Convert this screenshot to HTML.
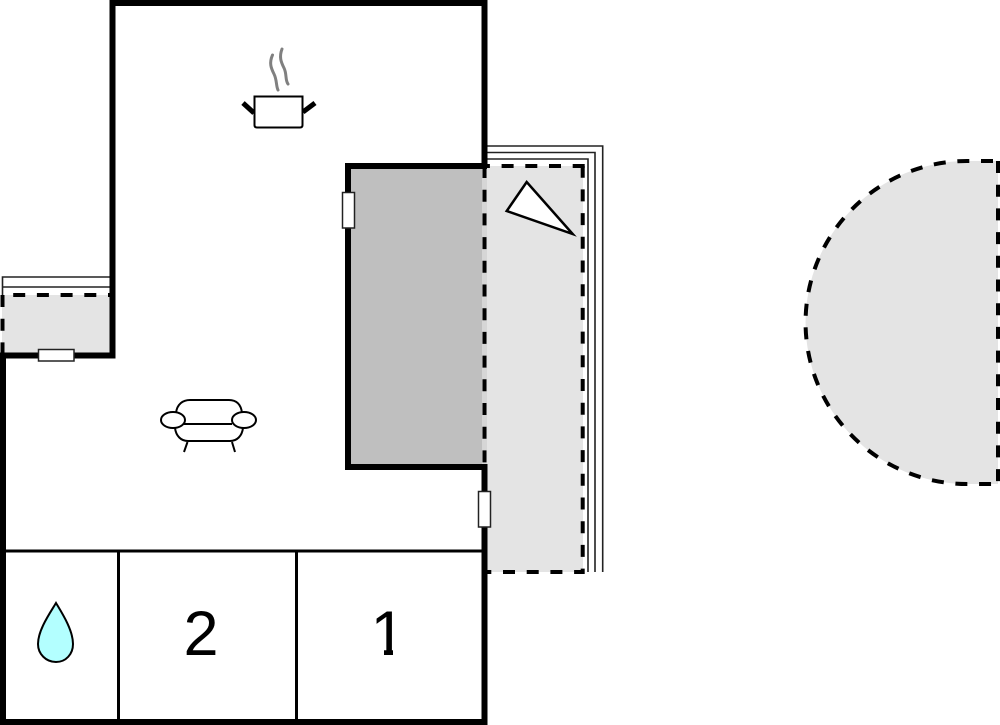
<!DOCTYPE html>
<html>
<head>
<meta charset="utf-8">
<style>
html,body{margin:0;padding:0;background:#fff;width:1000px;height:725px;overflow:hidden}
svg{display:block}
text{font-family:"Liberation Sans",sans-serif;font-size:63px;fill:#000;text-anchor:middle}
</style>
</head>
<body>
<svg width="1000" height="725" viewBox="0 0 1000 725" xmlns="http://www.w3.org/2000/svg">
<rect width="1000" height="725" fill="#fff"/>
<!-- terrace lines -->
<g fill="none" stroke="#222" stroke-width="1.6">
<path d="M486 146H602.700V572"/>
<path d="M486 152.500H595V572"/>
<path d="M486 159H588V572"/>
<path d="M2.500 295V277H111"/>
<path d="M2.500 287H111"/>
</g>
<!-- fills -->
<rect x="485" y="166" width="98" height="406" fill="#e4e4e4"/>
<rect x="2" y="295" width="109" height="59" fill="#e4e4e4"/>
<path d="M998 161H967A161.500 161.500 0 0 0 967 484H998Z" fill="#e4e4e4"/>
<rect x="348" y="166" width="136" height="301" fill="#bfbfbf"/>
<rect x="482" y="166" width="5" height="301" fill="#d6d6d6"/>
<!-- dashed -->
<g fill="none" stroke="#000" stroke-width="4" stroke-dasharray="12 11.700">
<path d="M484.500 572H582.700V166" stroke-dashoffset="5.200"/>
<path d="M584.700 166H484.500"/>
<path d="M110 295H3" stroke-dashoffset="10"/>
<path d="M2.500 295V354"/>
<path d="M993 161H967A161.500 161.500 0 0 0 967 484H998"/>
<path d="M998 161V484"/>
<path d="M484.500 166V467"/>
</g>
<!-- walls -->
<g fill="none" stroke="#000" stroke-width="6">
<path d="M484.500 166V3H112.500V355.500H3V722H484.500V467H348V166H487" stroke-linejoin="miter"/>
</g>
<g stroke="#000" stroke-width="3" fill="none">
<path d="M5 551H483"/>
<path d="M118.500 551V720"/>
<path d="M296.500 551V720"/>
</g>
<!-- doors / windows -->
<g fill="#fff" stroke="#222" stroke-width="1.500">
<rect x="342.500" y="192.500" width="12" height="35.500"/>
<rect x="478.500" y="491.500" width="12" height="35.500"/>
<rect x="38.500" y="349.500" width="35.500" height="11.500"/>
</g>
<!-- triangle -->
<path d="M526.700 182L506.700 211L572.700 234Z" fill="#fff" stroke="#000" stroke-width="2.500" stroke-linejoin="miter"/>
<!-- pot -->
<g fill="none" stroke-linecap="round">
<path d="M272.500 55C269 63 271 68 274 74C277 80 276 86 278 90" stroke="#808080" stroke-width="3"/>
<path d="M282 49C279 57 281 62 284 68C287 74 285 80 288 84" stroke="#808080" stroke-width="3"/>
</g>
<path d="M243 103L254 113" stroke="#000" stroke-width="5" fill="none"/>
<path d="M315 103L303 112" stroke="#000" stroke-width="5" fill="none"/>
<path d="M254.500 96.500H302.500V125Q302.500 127.500 300 127.500H257Q254.500 127.500 254.500 125Z" fill="#fff" stroke="#000" stroke-width="2"/>
<!-- sofa -->
<g fill="none" stroke="#000" stroke-width="2">
<path d="M176 413C177 404 183 400 190 400H229C236 400 241 404 242 413"/>
<path d="M175 428C176 436 181 441 188 441H230C237 441 242 436 243 428"/>
<path d="M184 424H232"/>
<path d="M187.500 442L184 452M232 442L235 452"/>
<ellipse cx="173" cy="420" rx="12" ry="8" fill="#fff"/>
<ellipse cx="244" cy="420" rx="12" ry="8" fill="#fff"/>
</g>
<!-- drop -->
<path d="M56 603C50 613 38 630 38 644C38 654 46 662 56 662C66 662 73 654 73 644C73 630 62 613 56 603Z" fill="#b3ffff" stroke="#000" stroke-width="2"/>
<!-- numbers -->
<text x="201" y="655">2</text>
<text x="388" y="655">1</text>
<rect x="365" y="648" width="19" height="10" fill="#fff"/>
<rect x="393" y="648" width="16" height="10" fill="#fff"/>
</svg>
</body>
</html>
